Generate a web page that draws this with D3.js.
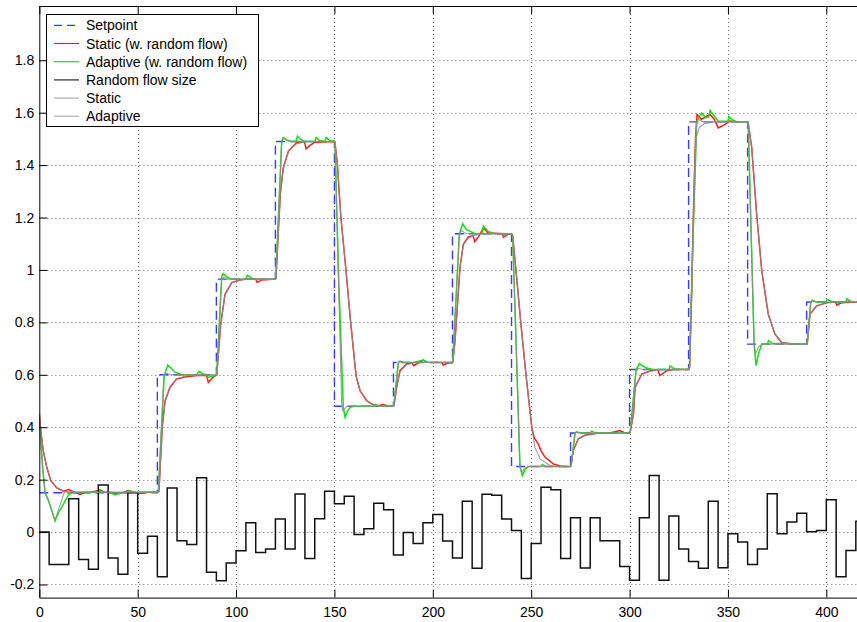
<!DOCTYPE html>
<html><head><meta charset="utf-8">
<script src="https://cdn.jsdelivr.net/npm/d3@7"></script>
<style>
body{margin:0;background:#fff}
svg{display:block}
text{font-family:"Liberation Sans",Arial,Helvetica,sans-serif;fill:#000}
</style>
</head><body>
<svg id="chart" width="857" height="622"></svg>
<script>
// ---------- data ----------
const xTicks = [0, 50, 100, 150, 200, 250, 300, 350, 400];
const xTickLabels = ["0", "50", "100", "150", "200", "250", "300", "350", "400"];
const yTicks = [-0.2, 0, 0.2, 0.4, 0.6, 0.8, 1.0, 1.2, 1.4, 1.6, 1.8];
const yTickLabels = ["-0.2", "0", "0.2", "0.4", "0.6", "0.8", "1", "1.2", "1.4", "1.6", "1.8"];
const xDomain = [0, 416];
const yDomain = [-0.25, 2.007];

const legendLabels = ["Setpoint", "Static (w. random flow)", "Adaptive (w. random flow)", "Random flow size", "Static", "Adaptive"];

const setpointTimes  = [0, 60, 90, 120, 150, 180, 210, 240, 270, 300, 330, 360, 390];
const setpointValues = [0.15, 0.6, 0.965, 1.49, 0.48, 0.647, 1.138, 0.25, 0.378, 0.62, 1.565, 0.717, 0.878];

const flowTimes = [0,5,10,15,20,25,30,35,40,45,50,55,60,65,70,75,80,85,90,95,100,105,110,115,120,125,130,135,140,145,150,155,160,165,170,175,180,185,190,195,200,205,210,215,220,225,230,235,240,245,250,255,260,265,270,275,280,285,290,295,300,305,310,315,320,325,330,335,340,345,350,355,360,365,370,375,380,385,390,395,400,405,410,415];
const flowValues = [0,-0.124,-0.124,0.127,-0.105,-0.142,0.180,-0.099,-0.161,0.150,-0.081,-0.016,-0.170,0.168,-0.033,-0.047,0.207,-0.153,-0.186,-0.118,-0.071,0.036,-0.078,-0.065,0.050,-0.065,0.145,-0.101,0.051,0.156,0.108,0.137,-0.009,0.013,0.110,0.085,-0.087,-0.002,-0.044,0.036,0.067,-0.034,-0.099,0.118,-0.138,0.144,0.140,0.050,0.006,-0.177,-0.044,0.171,0.161,-0.101,0.055,-0.137,0.055,-0.033,-0.033,-0.131,-0.184,0.055,0.216,-0.184,0.061,-0.065,-0.112,-0.138,0.118,-0.136,-0.006,-0.038,-0.124,-0.065,0.146,-0.006,0.038,0.072,0.001,0.006,0.123,-0.170,-0.070,0.041];

// Static controller with random flow (red)
const staticFlow = [
[0,0.45],[1,0.37],[2,0.311],[3.8,0.247],[5.8,0.197],[8.8,0.169],[12.2,0.156],[14.9,0.162],[17,0.155],[20.7,0.144],[23,0.152],[26,0.151],[30.9,0.16],[33,0.153],[36,0.152],[40.5,0.146],[43,0.152],[45.2,0.158],[48,0.153],[51,0.147],[55,0.152],[60.3,0.152],
[60.8,0.155],[62.5,0.40],[63.9,0.50],[66.4,0.552],[69.8,0.584],[72,0.588],[74.9,0.593],[80,0.597],[85,0.598],[85.9,0.571],[87.5,0.585],[89.5,0.597],[90.2,0.6],
[92.2,0.793],[94.4,0.907],[97.8,0.952],[102,0.962],[105,0.965],[110,0.965],[110.7,0.952],[113,0.962],[120,0.965],
[120.3,0.97],[121.5,1.15],[122.5,1.29],[124,1.389],[126.6,1.453],[130.8,1.485],[134.8,1.488],[135.6,1.462],[137.5,1.475],[140,1.487],[150,1.49],
[150.3,1.485],[151.5,1.402],[153.3,1.199],[155.9,0.996],[158.3,0.796],[161,0.596],[163,0.539],[166.4,0.501],[169.6,0.486],[172,0.482],[175,0.487],[177,0.48],[180,0.48],
[180.3,0.485],[181.6,0.552],[183.3,0.616],[186.7,0.641],[189.5,0.645],[190.3,0.635],[192,0.643],[195.2,0.656],[197,0.648],[204.5,0.647],[205.3,0.637],[207.5,0.645],[210,0.647],
[210.3,0.66],[211.3,0.73],[213.8,1.009],[215.5,1.098],[218,1.126],[220.5,1.13],[221.3,1.108],[223.5,1.13],[225.7,1.16],[228,1.142],[235.3,1.138],[235.9,1.125],[238,1.135],[240,1.138],
[240.6,1.13],[242.3,0.996],[244.7,0.8],[247.4,0.597],[250.3,0.40],[251.5,0.36],[253.6,0.336],[255,0.31],[257,0.286],[261.2,0.26],[265.5,0.25],[270,0.25],
[270.3,0.255],[271.3,0.31],[274,0.356],[277,0.368],[279.9,0.373],[285,0.378],[290,0.378],[295.1,0.387],[297,0.38],[300,0.378],
[300.4,0.385],[302,0.451],[302.8,0.552],[306.2,0.603],[310.4,0.615],[314.5,0.618],[315.3,0.597],[318.9,0.615],[322,0.62],[330,0.62],
[330.5,0.63],[331.5,0.9],[332.7,1.3],[333.5,1.5],[334.3,1.593],[336.5,1.575],[340.9,1.593],[343,1.575],[345.1,1.542],[348.5,1.555],[351,1.568],[355,1.565],[360,1.565],
[360.3,1.56],[362.1,1.466],[364.6,1.212],[367.2,0.996],[370.5,0.831],[373.9,0.755],[377.3,0.723],[380,0.72],[385,0.717],[390,0.717],
[390.3,0.72],[391.7,0.831],[395.1,0.863],[400.2,0.875],[404.7,0.878],[405.3,0.866],[407.5,0.875],[416,0.878]
];

// Adaptive controller with random flow (green)
const adaptiveFlow = [
[0,0.43],[1.7,0.247],[2.9,0.152],[4.6,0.121],[6.3,0.083],[8,0.042],[9.5,0.07],[11.4,0.095],[14.7,0.14],[16.3,0.15],[20,0.152],[30.5,0.152],[31,0.157],[33,0.152],[36,0.15],[38.5,0.142],[40.5,0.148],[45,0.152],[45.5,0.158],[47.5,0.152],[60.3,0.152],
[60.5,0.155],[63.5,0.597],[65.3,0.637],[67,0.625],[69,0.61],[72.4,0.6],[80,0.6],[81.2,0.613],[83,0.604],[85,0.6],[85.8,0.59],[89.5,0.597],[90.2,0.6],
[92.7,0.977],[93.5,0.986],[95.5,0.972],[97.8,0.965],[105,0.965],[105.7,0.98],[108.6,0.966],[120,0.965],
[120.2,0.97],[123.2,1.49],[124,1.505],[126,1.495],[128,1.49],[130.5,1.49],[131.2,1.51],[133,1.497],[135,1.49],[140,1.49],[140.8,1.505],[142.5,1.494],[145,1.49],[145.8,1.505],[147.5,1.494],[150,1.49],
[150.3,1.485],[152,1.0],[154.5,0.476],[155.4,0.438],[156.5,0.46],[158,0.476],[160,0.48],[170,0.48],[170.8,0.488],[172.5,0.48],[180,0.48],
[180.2,0.485],[182.5,0.647],[183.3,0.652],[185,0.648],[190,0.647],[195.2,0.656],[197,0.648],[210,0.647],
[210.2,0.66],[213.5,1.138],[215.2,1.176],[217,1.155],[219,1.147],[221.6,1.138],[225,1.138],[225.7,1.167],[228,1.148],[230.8,1.138],[240,1.138],
[240.6,1.13],[244.3,0.25],[245.5,0.216],[247,0.24],[248.5,0.25],[255,0.25],[255.6,0.258],[257.5,0.25],[270,0.25],
[270.3,0.255],[272.3,0.378],[273,0.382],[275,0.378],[280,0.378],[280.7,0.385],[282.5,0.378],[300,0.378],
[300.4,0.385],[303.3,0.619],[305,0.643],[306.5,0.635],[308.8,0.625],[312,0.62],[320,0.62],[320.6,0.634],[323,0.622],[330,0.62],
[330.5,0.63],[332.1,1.085],[334.1,1.565],[335.5,1.585],[336.7,1.599],[338.7,1.58],[340.3,1.585],[340.9,1.608],[343,1.588],[345.1,1.567],[350,1.567],[350.4,1.585],[352.5,1.572],[354.4,1.565],[360,1.565],
[360.3,1.56],[363.3,0.717],[364.3,0.635],[365.5,0.68],[367.2,0.717],[370,0.717],[370.6,0.73],[372.5,0.72],[390,0.717],
[390.3,0.72],[392.1,0.878],[392.8,0.885],[395,0.878],[400,0.878],[400.4,0.888],[402.5,0.88],[410,0.878],[410.4,0.89],[412.5,0.88],[416,0.878]
];

// Static controller without flow (gray)
const staticNominal = [
[0,0.45],[1,0.37],[2,0.311],[3.8,0.247],[5.8,0.197],[8.8,0.169],[12.2,0.156],[16,0.152],[60.3,0.152],
[60.8,0.155],[62.5,0.40],[64,0.50],[66.5,0.556],[70,0.585],[75,0.597],[90.2,0.6],
[92.2,0.793],[94.4,0.907],[97.8,0.952],[102,0.962],[106,0.965],[120,0.965],
[120.3,0.97],[121.5,1.15],[122.5,1.29],[124,1.389],[126.6,1.453],[130.8,1.482],[136,1.49],[150,1.49],
[150.3,1.485],[151.5,1.402],[153.3,1.199],[155.9,0.996],[158.3,0.796],[161,0.596],[163,0.539],[166.4,0.501],[169.6,0.486],[174,0.48],[180,0.48],
[180.3,0.485],[181.6,0.552],[183.3,0.612],[186.7,0.638],[190,0.645],[195,0.647],[210,0.647],
[210.3,0.66],[211.3,0.73],[213.8,1.009],[215.5,1.095],[218,1.122],[222,1.134],[228,1.138],[240,1.138],
[240.6,1.13],[242.3,0.996],[244.7,0.8],[247.4,0.597],[250.3,0.40],[251.9,0.324],[254.5,0.279],[259.6,0.254],[263,0.25],[270,0.25],
[270.3,0.255],[271.3,0.31],[274,0.356],[277,0.37],[281,0.377],[300,0.378],
[300.4,0.385],[302,0.451],[302.8,0.552],[306.2,0.6],[310.4,0.614],[316,0.619],[330,0.62],
[330.5,0.63],[331.5,0.9],[332.7,1.3],[333.7,1.5],[335.5,1.545],[338,1.558],[343,1.565],[360,1.565],
[360.3,1.56],[362.1,1.466],[364.6,1.212],[367.2,0.996],[370.5,0.831],[373.9,0.755],[377.3,0.725],[382,0.718],[390,0.717],
[390.3,0.72],[391.7,0.831],[395.1,0.863],[400,0.875],[405,0.878],[416,0.878]
];

// Adaptive controller without flow (gray)
const adaptiveNominal = [
[0,0.43],[1.7,0.247],[2.9,0.152],[4.6,0.121],[6.3,0.083],[8,0.045],[12.7,0.152],[60.3,0.152],
[60.5,0.155],[63.3,0.6],[64.5,0.606],[66.5,0.6],[90.2,0.6],
[92.7,0.965],[93.5,0.972],[95.5,0.965],[120,0.965],
[120.2,0.97],[123.2,1.49],[124,1.505],[126,1.495],[128,1.49],[150,1.49],
[150.3,1.485],[153.7,0.48],[154.3,0.462],[156,0.478],[158,0.48],[180,0.48],
[180.2,0.485],[182.5,0.647],[183.3,0.65],[185,0.647],[210,0.647],
[210.2,0.66],[213.5,1.138],[214.5,1.15],[216.5,1.14],[240,1.138],
[240.6,1.13],[244.3,0.25],[245.2,0.228],[247,0.245],[248.5,0.25],[270,0.25],
[270.3,0.255],[272.3,0.378],[273,0.381],[275,0.378],[300,0.378],
[300.4,0.385],[303.3,0.619],[304.5,0.625],[306.5,0.62],[330,0.62],
[330.5,0.63],[332.1,1.085],[334.1,1.565],[335,1.575],[337,1.567],[360,1.565],
[360.3,1.56],[363.3,0.717],[364,0.68],[365.5,0.705],[367.2,0.717],[390,0.717],
[390.3,0.72],[392.1,0.878],[393,0.882],[395,0.878],[416,0.878]
];

// ---------- drawing ----------
const svg = d3.select("#chart");
const W = 857, H = 622;
const plot = {left: 39.3, right: 857.8, top: 6, bottom: 597.6};

const x = d3.scaleLinear().domain(xDomain).range([plot.left, plot.right]);
const y = d3.scaleLinear().domain(yDomain).range([plot.bottom, plot.top]);

svg.append("rect").attr("width", W).attr("height", H).attr("fill", "#fff");

svg.append("defs").append("clipPath").attr("id", "clip")
  .append("rect").attr("x", plot.left).attr("y", plot.top)
  .attr("width", plot.right - plot.left).attr("height", plot.bottom - plot.top);

// grid
const grid = svg.append("g").attr("stroke", "#6f6f6f").attr("stroke-width", 1).attr("stroke-dasharray", "1,3");
grid.selectAll(".gx").data(xTicks.slice(1)).join("line")
  .attr("x1", d => Math.round(x(d)) + 0.5).attr("x2", d => Math.round(x(d)) + 0.5)
  .attr("y1", plot.top).attr("y2", plot.bottom);
grid.selectAll(".gy").data(yTicks).join("line")
  .attr("y1", d => Math.round(y(d)) + 0.5).attr("y2", d => Math.round(y(d)) + 0.5)
  .attr("x1", plot.left).attr("x2", plot.right);

const g = svg.append("g").attr("clip-path", "url(#clip)");
const line = d3.line().x(d => x(d[0])).y(d => y(d[1]));

// setpoint
const spData = setpointTimes.map((t, i) => [t, setpointValues[i]]);
spData.push([xDomain[1], setpointValues[setpointValues.length - 1]]);
g.append("path").datum(spData)
  .attr("d", d3.line().x(d => x(d[0])).y(d => y(d[1])).curve(d3.curveStepAfter))
  .attr("fill", "none").attr("stroke", "#3a3aff").attr("stroke-width", 1.4).attr("stroke-dasharray", "9,5");

g.append("path").datum(staticFlow).attr("d", line)
  .attr("fill", "none").attr("stroke", "#ff1a1a").attr("stroke-width", 1.5);
g.append("path").datum(adaptiveFlow).attr("d", line)
  .attr("fill", "none").attr("stroke", "#14e014").attr("stroke-width", 1.5);

const flowData = flowTimes.map((t, i) => [t, flowValues[i]]);
flowData.push([xDomain[1], flowValues[flowValues.length - 1]]);
g.append("path").datum(flowData)
  .attr("d", d3.line().x(d => x(d[0])).y(d => y(d[1])).curve(d3.curveStepAfter))
  .attr("fill", "none").attr("stroke", "#111").attr("stroke-width", 1.5);

g.append("path").datum(staticNominal).attr("d", line)
  .attr("fill", "none").attr("stroke", "#8c8c8c").attr("stroke-width", 1.1).attr("stroke-opacity", 0.85);
g.append("path").datum(adaptiveNominal).attr("d", line)
  .attr("fill", "none").attr("stroke", "#8c8c8c").attr("stroke-width", 1.1).attr("stroke-opacity", 0.85);

// axes
const axB = d3.axisBottom(x).tickValues(xTicks).tickFormat((d, i) => xTickLabels[i])
  .tickSizeInner(-8).tickSizeOuter(0).tickPadding(9);
const axL = d3.axisLeft(y).tickValues(yTicks).tickFormat((d, i) => yTickLabels[i])
  .tickSizeInner(-8).tickSizeOuter(0).tickPadding(5);
const axT = d3.axisTop(x).tickValues(xTicks).tickFormat("").tickSizeInner(-8).tickSizeOuter(0);

function style(sel) {
  sel.selectAll("path.domain").attr("stroke", "#000");
  sel.selectAll(".tick line").attr("stroke", "#000");
  sel.selectAll("text").attr("font-size", 14).attr("fill", "#000")
    .attr("font-family", '"Liberation Sans", Arial, Helvetica, sans-serif');
}
svg.append("g").attr("transform", `translate(0,${plot.bottom})`).call(axB).call(style);
svg.append("g").attr("transform", `translate(${plot.left},0)`).call(axL).call(style);
svg.append("g").attr("transform", `translate(0,${plot.top})`).call(axT).call(style);

// legend
const leg = svg.append("g");
leg.append("rect").attr("x", 46.5).attr("y", 14.5).attr("width", 212).attr("height", 112)
  .attr("fill", "#fff").attr("stroke", "#000").attr("stroke-width", 1);
const legStyles = [
  {c: "#3a3aff", d: "8,5", w: 1.3},
  {c: "#ff1a1a", d: null, w: 1.2},
  {c: "#14e014", d: null, w: 1.2},
  {c: "#444", d: null, w: 1.4},
  {c: "#bbbbbb", d: null, w: 1.4},
  {c: "#bbbbbb", d: null, w: 1.4}
];
legendLabels.forEach((lab, i) => {
  const cy = 25.3 + i * 18.2;
  leg.append("line").attr("x1", 54).attr("x2", 79).attr("y1", cy).attr("y2", cy)
    .attr("stroke", legStyles[i].c).attr("stroke-width", legStyles[i].w)
    .attr("stroke-dasharray", legStyles[i].d);
  leg.append("text").attr("x", 86).attr("y", cy).attr("dy", "0.36em")
    .attr("font-size", 14).text(lab);
});
</script>
</body></html>
